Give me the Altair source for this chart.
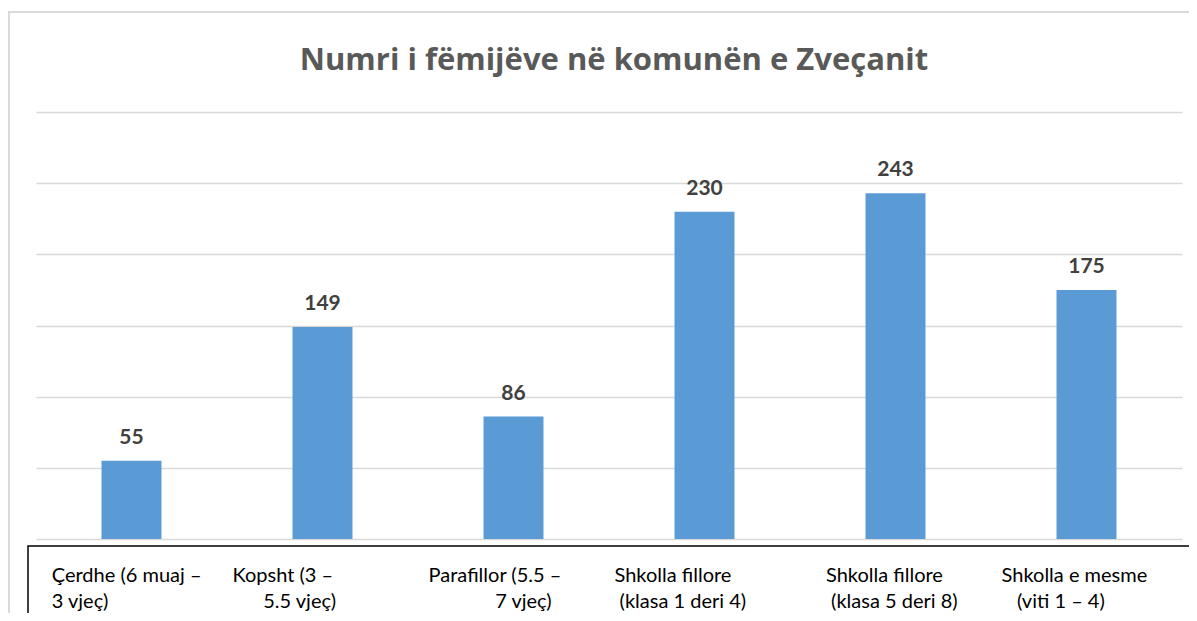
import altair as alt
import pandas as pd

NB = "\u00a0"
Z = "\u200b"  # keeps the leading spaces of the original wrapped labels

categories = ["cerdhe", "kopsht", "parafillor", "fillore14", "fillore58", "mesme"]
values = [55, 149, 86, 230, 243, 175]
label_line1 = [
    Z + NB * 2 + "Çerdhe (6 muaj –",
    "Kopsht (3 –",
    Z + NB * 1 + "Parafillor (5.5 –",
    "Shkolla fillore",
    Z + NB * 4 + "Shkolla fillore",
    Z + NB * 1 + "Shkolla e mesme",
]
label_line2 = [
    Z + NB * 2 + "3 vjeç)",
    Z + NB * 6 + "5.5 vjeç)",
    Z + NB * 14 + "7 vjeç)",
    Z + NB * 1 + "(klasa 1 deri 4)",
    Z + NB * 5 + "(klasa 5 deri 8)",
    Z + NB * 4 + "(viti 1 – 4)",
]
grid_values = [0, 50, 100, 150, 200, 250, 300]
title_text = "Numri i fëmijëve në komunën e Zveçanit"

df = pd.DataFrame({
    "cat": categories,
    "value": values,
    "lines": [[a, b] for a, b in zip(label_line1, label_line2)],
})

W, H = 1146, 427

xscale = alt.Scale(paddingInner=0.686, paddingOuter=0.343)
yscale = alt.Scale(domain=[0, 300], nice=False)

x = alt.X("cat:N", sort=None, scale=xscale, axis=None)

base = alt.Chart(df)

frame = alt.Chart(alt.Data(values=[{}])).mark_rect(
    filled=False, stroke="#d9d9d9", strokeWidth=2
).encode(x=alt.value(-27), x2=alt.value(1300), y=alt.value(-100), y2=alt.value(700))

box = alt.Chart(alt.Data(values=[{}])).mark_rect(
    filled=False, stroke="#000000", strokeWidth=1.5
).encode(x=alt.value(-8), x2=alt.value(1300), y=alt.value(434), y2=alt.value(800))

bars = base.mark_bar(color="#5b9bd5").encode(
    x=x,
    y=alt.Y("value:Q", scale=yscale,
            axis=alt.Axis(values=grid_values, labels=False, ticks=False, domain=False,
                          title=None, grid=True, gridColor="#d9d9d9", gridWidth=1.5)),
)

vals = base.mark_text(
    font="Lato", fontSize=21, fontWeight="bold", color="#404040", dy=-17, baseline="alphabetic"
).encode(x=x, y=alt.Y("value:Q", scale=yscale), text="value:Q")

cats = base.mark_text(
    font="Lato", fontSize=20, color="#000000", align="left", baseline="alphabetic",
    dx=-90, lineHeight=26
).encode(x=x, y=alt.value(470), text="lines")

chart = alt.layer(frame, box, bars, vals, cats).properties(
    width=W, height=H,
    autosize=alt.AutoSizeParams(type="none"),
    padding={"left": 28, "top": 104, "right": 7, "bottom": 74},
    title=alt.TitleParams(title_text, font="Open Sans", fontSize=31, fontWeight="bold",
                          color="#595959", anchor="middle", frame="group",
                          baseline="alphabetic", offset=-90, dx=5),
).configure_view(stroke=None)

chart.save("out.html", embed_options={"renderer": "svg", "actions": False})
